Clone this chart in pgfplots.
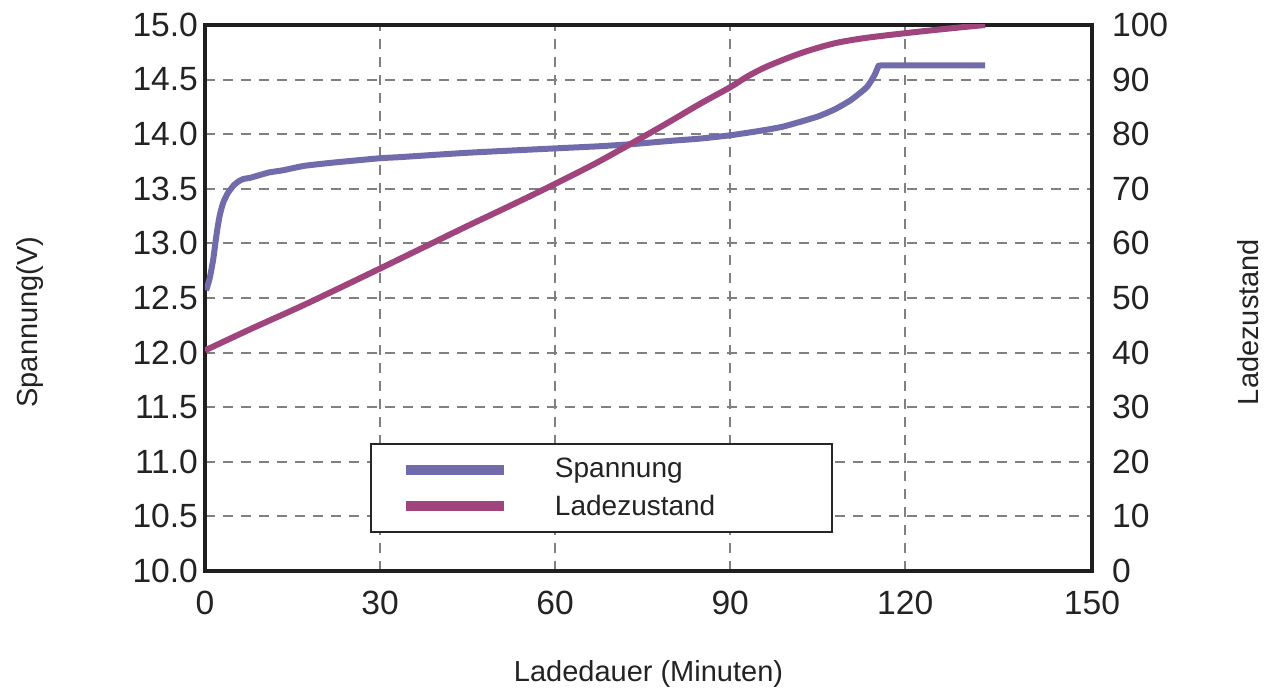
\documentclass[border=0pt]{standalone}
\usepackage{fontspec}
\setmainfont{Liberation Sans}
\usepackage{pgfplots}
\pgfplotsset{compat=1.18}
\usetikzlibrary{calc}

\definecolor{spannung}{RGB}{112,108,172}
\definecolor{ladez}{RGB}{160,68,126}
\definecolor{txt}{RGB}{35,35,35}
\definecolor{gridgray}{RGB}{128,128,128}

\pgfplotsset{
  base/.style={
    scale only axis,
    width=443.5pt, height=273pt,
    xmin=0, xmax=152,
    /pgf/number format/assume math mode=true,
    tick style={draw=none},
    ticklabel style={font=\fontsize{16.8}{19}\selectfont, text=txt},
    label style={font=\fontsize{14.5}{17}\selectfont, text=txt},
    axis line style={line width=2pt, color=black!88},
  },
}

\begin{document}
\begin{tikzpicture}
\begin{axis}[
  base,
  name=main,
  ymin=10, ymax=15,
  xtick={0,30,60,90,120,152},
  xticklabels={0,30,60,90,120,150},
  ytick={10,10.5,11,11.5,12,12.5,13,13.5,14,14.5,15},
  yticklabels={10.0,10.5,11.0,11.5,12.0,12.5,13.0,13.5,14.0,14.5,15.0},
  xticklabel style={yshift=-6.5pt},
  xmajorgrids, ymajorgrids,
  grid style={gridgray, line width=1pt, dash pattern=on 5pt off 4pt},
  xlabel={Ladedauer (Minuten)},
  xlabel style={at={(axis description cs:0.5,-0.188)}, anchor=center},
  ylabel={Spannung(V)},
  ylabel style={at={(axis description cs:-0.197,0.456)}, anchor=center},
]
\addplot[spannung, line width=3pt, line join=round, smooth, tension=0.35] coordinates {
  (0.2,12.57) (0.8,12.68) (1.4,12.85) (2.0,13.09) (2.5,13.25) (3.1,13.37)
  (3.9,13.46) (4.9,13.53) (5.8,13.57) (6.6,13.59) (7.7,13.60) (9,13.62)
  (11,13.65) (13.4,13.67) (17,13.71) (22,13.74) (30,13.78) (33.4,13.79)
  (45,13.83) (60,13.87) (67.7,13.89) (73.4,13.91) (80,13.94) (84.9,13.96)
  (90,13.99) (95,14.03) (99.1,14.07) (104.9,14.16) (108,14.23) (110.6,14.31)
  (112.3,14.38) (113.4,14.43) (114.3,14.50) (114.9,14.56) (115.3,14.61)
  (115.9,14.63) (124,14.63) (133.7,14.63)
};
\end{axis}
\begin{axis}[
  base,
  ymin=0, ymax=100,
  axis y line*=right,
  axis x line=none,
  ytick={0,10,...,100},
  yticklabel style={xshift=6.5pt},
  ylabel={Ladezustand},
  ylabel style={at={(axis description cs:1.176,0.456)}, anchor=center, rotate=0},
  legend style={
    at={(axis description cs:0.186,0.234)}, anchor=north west,
    draw=black!85, line width=1pt,
    inner xsep=15pt, inner ysep=5pt, row sep=3pt,
    cells={anchor=west},
    nodes={inner sep=2pt, font=\fontsize{14}{16}\selectfont, text=txt},
  },
  legend image code/.code={
    \draw[#1, line width=5pt] (0pt,0pt) -- (49pt,0pt);
    \path[draw=none] (0pt,0pt) -- (72.5pt,0pt);
  },
]
\addlegendimage{spannung, line width=3pt}
\addlegendentry{\makebox[121.5pt][l]{Spannung}}
\addplot[ladez, line width=3pt, line join=round, smooth, tension=0.5] coordinates {
  (0,40.4) (8,44.4) (16.3,48.4) (23,51.8) (30,55.4) (37.5,59.3) (45,63.2)
  (52.5,67.0) (60,70.9) (67,74.7) (73.4,78.5) (79,81.9) (84.9,85.6)
  (90,88.6) (93,90.6) (96.3,92.4) (102,94.8) (107.7,96.6) (113,97.6)
  (120,98.5) (127,99.3) (133.7,100)
};
\addlegendentry{\makebox[121.5pt][l]{Ladezustand}}
\end{axis}
\pgfresetboundingbox
\path ($(main.south west)+(-102.5pt,-59pt)$) rectangle ($(main.north east)+(86pt,12.5pt)$);
\end{tikzpicture}
\end{document}
